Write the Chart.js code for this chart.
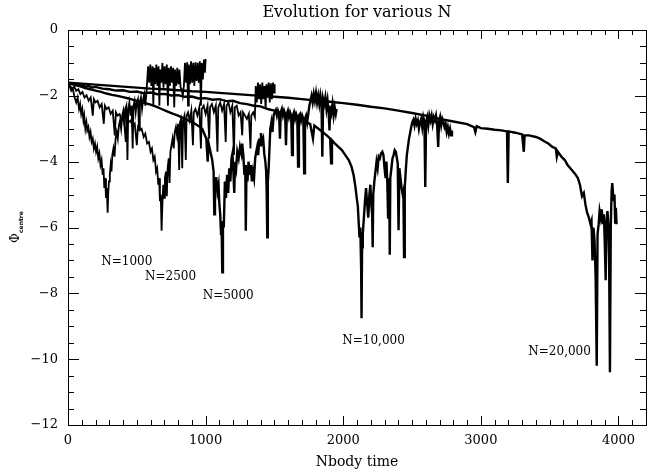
<!DOCTYPE html>
<html>
<head>
<meta charset="utf-8">
<script src="https://cdn.jsdelivr.net/npm/chart.js@4.4.1/dist/chart.umd.min.js"></script>
<style>
  html, body { margin: 0; padding: 0; background: #fff; }
  canvas { display: block; }
</style>
</head>
<body>
<canvas id="evolution" width="657" height="474"></canvas>
<script>
// [Nbody time, phi_centre], one list per run
const n1000 = [
  [0,-1.6],[12,-1.72],[24,-1.85],[36,-1.8],[48,-2.05],[60,-2.2],[70,-2.05],[80,-2.4],[88,-2.25],[96,-2.55],
  [104,-2.4],[112,-2.75],[118,-2.6],[126,-3.0],[134,-2.8],[140,-3.05],[148,-2.95],[156,-3.25],[164,-3.1],[172,-3.4],
  [180,-3.3],[188,-3.6],[196,-3.45],[204,-3.7],[212,-3.55],[220,-3.9],[228,-3.75],[236,-4.1],[244,-3.95],[252,-4.4],
  [258,-4.2],[264,-4.8],[270,-4.5],[276,-5.1],[282,-4.8],[288,-5.55],[293,-4.9],[298,-4.6],[304,-4.4],[310,-4.1],
  [316,-4.3],[322,-3.8],[330,-3.6],[338,-3.85],[346,-3.3],[354,-3.1],[362,-3.3],[370,-2.9],[378,-2.75],[386,-3.0],
  [394,-2.6],[402,-2.45],[410,-2.9],[416,-2.4],[424,-2.3],[432,-3.95],[438,-2.4],[446,-2.2],[454,-2.6],[462,-2.3],
  [470,-3.6],[476,-2.3],[484,-2.15],[492,-2.5],[500,-2.2],[508,-2.1],[516,-3.0],[522,-2.2],[530,-2.05],[538,-2.4],
  [546,-2.1],[554,-1.95],[562,-2.3],[570,-1.9],[576,-1.5],
  [582,-1.1],[590,-1.6],[598,-1.05],[606,-1.7],[614,-1.1],[620,-2.3],[626,-1.15],[634,-1.65],[642,-1.05],[650,-1.7],
  [658,-1.1],[664,-2.3],[670,-1.2],[678,-1.6],[686,-1.0],[694,-1.75],[702,-1.1],[710,-1.65],[718,-1.05],[726,-2.3],
  [732,-1.15],[740,-1.7],[748,-1.1],[756,-1.6],[764,-1.15],[772,-2.35],[778,-1.2],[786,-1.7],[794,-1.15],[802,-1.65],
  [810,-1.2],[818,-1.75],[826,-1.8],[834,-2.0],[842,-1.7],[850,-1.0],[858,-1.6],[866,-0.98],[872,-2.3],[878,-1.05],
  [886,-1.65],[894,-0.95],[902,-1.6],[910,-1.0],[918,-1.7],[926,-0.98],[934,-1.55],[942,-1.0],[950,-1.6],[958,-0.95],
  [966,-2.3],[972,-1.0],[980,-1.5],[988,-0.9],[995,-1.3],[1000,-0.88]
];

const n2500 = [
  [0,-1.6],[15,-1.7],[30,-1.78],[45,-1.72],[60,-1.85],[75,-1.8],[90,-1.95],[105,-1.88],[120,-2.05],[135,-1.98],
  [150,-2.15],[165,-2.05],[180,-2.6],[188,-2.1],[200,-2.2],[215,-2.15],[230,-2.35],[245,-2.25],[260,-2.85],[268,-2.3],
  [280,-2.4],[295,-2.35],[310,-2.55],[325,-2.45],[340,-3.2],[348,-2.5],[360,-2.6],[375,-2.55],[390,-2.75],[405,-2.65],
  [420,-3.4],[428,-2.7],[440,-2.8],[455,-2.75],[470,-2.95],[485,-2.85],[500,-3.5],[508,-2.95],[520,-3.05],[535,-3.0],
  [550,-3.25],[562,-3.15],[575,-3.45],[588,-3.4],[600,-3.7],[610,-3.6],[620,-3.95],[630,-3.85],[640,-4.3],[648,-4.2],
  [656,-4.7],[662,-4.5],[668,-5.2],[674,-5.0],[680,-6.1],[686,-5.3],[692,-4.7],[698,-5.1],[704,-4.5],[712,-4.3],
  [718,-5.05],[724,-4.2],[732,-3.9],[738,-4.65],[744,-3.7],[752,-3.5],[760,-3.3],[768,-3.6],[776,-3.1],[784,-2.95],
  [792,-3.2],[800,-2.85],[808,-4.25],[814,-2.8],[822,-2.7],[830,-4.2],[836,-2.75],[846,-2.6],[856,-3.95],[862,-2.6],
  [872,-2.5],[884,-2.75],[896,-2.45],[908,-3.5],[914,-2.5],[926,-2.4],[940,-2.6],[954,-2.35],[966,-3.6],[972,-2.4],
  [986,-2.3],[1000,-2.55],[1014,-2.3],[1026,-3.3],[1032,-2.35],[1046,-2.25],[1060,-2.5],[1074,-2.3],[1086,-3.7],[1092,-2.35],
  [1106,-2.2],[1120,-2.45],[1134,-2.25],[1146,-3.4],[1152,-2.3],[1166,-2.2],[1180,-2.5],[1194,-2.3],[1206,-3.8],[1212,-2.35],
  [1226,-2.3],[1240,-2.6],[1254,-2.5],[1266,-3.2],[1272,-2.5],[1286,-2.6],[1300,-2.7],[1314,-2.55],[1326,-3.6],[1332,-2.6],
  [1346,-2.5],[1358,-2.65],[1364,-1.7],
  [1372,-2.2],[1380,-1.6],[1388,-2.1],[1396,-1.65],[1404,-2.25],[1412,-1.6],[1420,-2.1],[1428,-1.7],[1436,-2.4],[1442,-1.65],
  [1450,-2.05],[1458,-1.6],[1466,-2.2],[1474,-1.62],[1482,-2.1],[1490,-1.6],[1497,-1.9],[1502,-1.65]
];

const n5000 = [
  [0,-1.6],[40,-1.66],[80,-1.7],[120,-1.76],[160,-1.8],[200,-1.84],[240,-1.88],[280,-1.93],[320,-1.97],[360,-2.0],
  [400,-2.04],[440,-2.08],[480,-2.13],[520,-2.17],[560,-2.22],[600,-2.27],[640,-2.33],[680,-2.4],[720,-2.47],[760,-2.54],
  [800,-2.6],[840,-2.68],[880,-2.76],[920,-2.84],[960,-2.95],[975,-3.0],[990,-3.15],[1005,-3.3],[1015,-4.0],[1022,-3.45],
  [1035,-3.7],[1048,-3.95],[1058,-4.3],[1063,-5.6],[1068,-4.5],[1078,-4.5],[1086,-4.9],[1094,-4.7],[1100,-5.3],[1106,-5.6],
  [1112,-6.2],[1116,-5.9],[1121,-7.36],[1126,-5.8],[1132,-6.0],[1140,-4.6],[1148,-5.1],[1156,-4.4],[1164,-4.95],[1172,-4.2],
  [1180,-4.6],[1188,-3.9],[1195,-3.75],[1202,-4.3],[1208,-4.95],[1214,-4.0],[1222,-4.2],[1230,-3.7],[1240,-3.9],[1250,-3.55],
  [1260,-3.75],[1266,-3.45],[1274,-3.8],[1282,-4.4],[1288,-4.1],[1292,-6.1],[1297,-4.2],[1304,-4.6],[1312,-4.0],[1320,-4.4],
  [1328,-4.1],[1336,-4.6],[1344,-4.3],[1352,-4.5],[1360,-3.9],[1368,-3.7],[1375,-3.55],[1382,-3.8],[1390,-3.3],[1396,-3.5],
  [1402,-3.13],[1410,-3.4],[1418,-3.3],[1426,-3.75],[1434,-4.0],[1440,-4.3],[1444,-5.0],[1448,-6.3],[1452,-4.6],[1458,-4.2],
  [1464,-3.6],[1470,-3.0],[1478,-2.8],[1486,-3.1],[1494,-2.6],[1502,-2.5],[1510,-2.43],[1518,-2.6],[1526,-2.45],[1534,-2.55],
  [1540,-3.3],[1546,-2.5],[1554,-2.4],[1562,-2.6],[1570,-2.45],[1578,-2.55],[1584,-3.5],[1590,-2.55],[1598,-2.45],[1606,-2.65],
  [1614,-2.5],[1622,-2.6],[1628,-3.8],[1634,-2.6],[1642,-2.5],[1650,-2.7],[1658,-2.55],[1666,-2.65],[1672,-4.15],[1678,-2.6],
  [1686,-2.55],[1694,-2.75],[1702,-2.6],[1710,-2.7],[1716,-4.35],[1722,-2.7],[1730,-2.6],[1738,-2.8],[1746,-2.55],[1754,-2.3],
  [1762,-2.15],[1770,-2.0],[1778,-2.2],[1786,-1.95],[1794,-2.15],[1802,-1.92],[1810,-2.2],[1818,-2.0],[1826,-2.25],[1834,-1.98],
  [1842,-2.2],[1848,-3.85],[1854,-2.1],[1862,-2.25],[1870,-2.05],[1878,-2.4],[1886,-2.15],[1894,-2.5],[1900,-3.05],[1906,-2.3],
  [1914,-2.5],[1922,-2.25],[1930,-2.6],[1938,-2.35],[1946,-2.55],[1952,-2.4]
];

const n10000 = [
  [0,-1.6],[25,-1.64],[50,-1.62],[75,-1.68],[100,-1.66],[125,-1.72],[150,-1.7],[175,-1.75],[200,-1.73],[250,-1.78],
  [300,-1.8],[350,-1.84],[400,-1.83],[450,-1.88],[500,-1.87],[550,-1.92],[600,-1.9],[650,-1.95],[700,-1.94],[750,-1.99],
  [800,-1.98],[850,-2.03],[900,-2.02],[950,-2.08],[1000,-2.07],[1050,-2.12],[1100,-2.1],[1150,-2.16],[1200,-2.15],[1250,-2.22],
  [1300,-2.25],[1350,-2.3],[1400,-2.32],[1450,-2.4],[1500,-2.45],[1550,-2.52],[1600,-2.58],[1650,-2.66],[1700,-2.74],[1730,-2.8],
  [1760,-2.86],[1780,-3.3],[1790,-2.9],[1820,-3.0],[1850,-3.1],[1880,-3.2],[1905,-3.3],[1912,-4.05],[1918,-3.35],[1940,-3.45],
  [1965,-3.55],[1990,-3.65],[2015,-3.8],[2040,-3.95],[2060,-4.15],[2075,-4.4],[2088,-4.75],[2098,-5.1],[2106,-5.35],[2113,-5.9],
  [2118,-6.3],[2124,-6.0],[2130,-7.2],[2133,-8.76],[2137,-6.6],[2142,-6.2],[2150,-5.7],[2158,-5.2],[2166,-4.8],[2174,-5.3],
  [2182,-5.7],[2190,-5.0],[2197,-4.7],[2204,-5.3],[2210,-5.6],[2214,-6.6],[2218,-5.0],[2226,-4.6],[2234,-4.3],[2242,-4.0],
  [2250,-4.2],[2258,-3.85],[2266,-3.9],[2274,-3.75],[2284,-3.7],[2292,-3.8],[2300,-4.2],[2308,-4.5],[2314,-4.0],[2320,-4.6],
  [2326,-5.7],[2330,-4.5],[2334,-4.7],[2338,-6.83],[2342,-4.5],[2350,-4.2],[2358,-3.9],[2366,-3.8],[2374,-3.65],[2382,-3.7],
  [2390,-3.9],[2396,-4.05],[2402,-6.08],[2408,-4.2],[2416,-4.5],[2424,-4.8],[2432,-5.0],[2437,-4.9],[2442,-6.9],[2447,-4.8],
  [2454,-4.3],[2462,-3.8],[2470,-3.55],[2478,-3.3],[2486,-3.13],[2494,-2.95],[2502,-2.8],[2510,-2.73],[2518,-2.9],[2526,-2.7],
  [2534,-2.85],[2542,-2.75],[2550,-3.0],[2558,-2.8],[2566,-2.7],[2574,-2.95],[2582,-2.65],[2590,-2.8],[2596,-4.77],[2602,-2.8],
  [2610,-2.65],[2618,-2.9],[2626,-2.6],[2634,-2.75],[2642,-2.6],[2650,-2.85],[2658,-2.65],[2666,-2.75],[2674,-2.6],[2682,-2.85],
  [2690,-3.55],[2696,-2.8],[2704,-2.65],[2712,-2.9],[2720,-2.7],[2728,-2.8],[2736,-2.95],[2744,-2.85],[2752,-3.1],[2760,-2.95],
  [2768,-3.15],[2776,-3.0],[2784,-3.2],[2790,-3.05]
];

const n20000 = [
  [0,-1.6],[100,-1.63],[200,-1.66],[300,-1.69],[400,-1.72],[500,-1.75],[600,-1.78],[700,-1.8],[800,-1.83],[900,-1.86],
  [1000,-1.88],[1100,-1.91],[1200,-1.94],[1300,-1.97],[1400,-2.0],[1500,-2.03],[1600,-2.06],[1700,-2.1],[1800,-2.14],[1900,-2.18],
  [2000,-2.22],[2100,-2.27],[2200,-2.33],[2300,-2.38],[2400,-2.45],[2500,-2.52],[2600,-2.6],[2700,-2.7],[2800,-2.78],[2900,-2.86],
  [2950,-2.95],[2960,-3.1],[2970,-2.92],[3000,-2.98],[3050,-3.0],[3100,-3.03],[3150,-3.05],[3190,-3.08],[3196,-4.65],[3202,-3.08],
  [3250,-3.12],[3300,-3.17],[3312,-3.7],[3318,-3.2],[3350,-3.2],[3400,-3.25],[3430,-3.3],[3460,-3.38],[3490,-3.45],[3520,-3.55],
  [3545,-3.6],[3552,-3.85],[3560,-3.7],[3585,-3.85],[3610,-3.95],[3630,-4.1],[3650,-4.2],[3670,-4.3],[3690,-4.4],[3705,-4.5],
  [3720,-4.7],[3735,-5.05],[3748,-4.95],[3760,-5.3],[3772,-5.55],[3785,-5.7],[3797,-5.9],[3804,-5.8],[3811,-7.0],[3818,-6.0],
  [3826,-6.4],[3834,-7.5],[3842,-10.2],[3848,-6.2],[3856,-5.9],[3863,-5.5],[3871,-5.7],[3878,-5.45],[3886,-5.9],[3894,-5.6],
  [3900,-6.4],[3907,-7.6],[3913,-5.8],[3920,-5.5],[3927,-5.9],[3932,-7.0],[3938,-10.4],[3944,-6.0],[3950,-4.9],[3955,-4.65],
  [3961,-5.0],[3966,-5.2],[3971,-5.0],[3976,-5.85],[3981,-5.4],[3986,-5.9]
];

const xMajor = [0, 1000, 2000, 3000, 4000];
const runNames = ['N=1000', 'N=2500', 'N=5000', 'N=10,000', 'N=20,000'];
// where each run's label sits, in data units [time, phi]
const labelSpots = [[427,-7.05],[745,-7.5],[1164,-8.08],[2220,-9.45],[3572,-9.78]];

const serif = 'DejaVu Serif';

// IDL style box: inward ticks on all four sides, title and y label
const idlFrame = {
  id: 'idlFrame',
  afterDraw(chart) {
    const { ctx, chartArea: a, scales: { x, y } } = chart;
    ctx.save();
    ctx.strokeStyle = '#000';
    ctx.lineWidth = 1;
    ctx.strokeRect(Math.round(a.left) + 0.5, Math.round(a.top) + 0.5,
      Math.round(a.right - a.left), Math.round(a.bottom - a.top));

    ctx.beginPath();
    for (let v = 0; v <= 4200; v += 100) {
      const px = Math.round(x.getPixelForValue(v)) + 0.5;
      const len = v % 1000 === 0 ? 9 : 5;
      ctx.moveTo(px, a.bottom); ctx.lineTo(px, a.bottom - len);
      ctx.moveTo(px, a.top); ctx.lineTo(px, a.top + len);
    }
    for (let v = -12; v <= 0; v += 0.5) {
      const py = Math.round(y.getPixelForValue(v)) + 0.5;
      const len = v % 2 === 0 ? 11 : 6;
      ctx.moveTo(a.left, py); ctx.lineTo(a.left + len, py);
      ctx.moveTo(a.right, py); ctx.lineTo(a.right - len, py);
    }
    ctx.stroke();

    ctx.fillStyle = '#000';
    ctx.textAlign = 'center';
    ctx.textBaseline = 'middle';
    ctx.font = '16px "' + serif + '"';
    ctx.fillText('Evolution for various N', (a.left + a.right) / 2, 13);

    ctx.font = '12px "' + serif + '"';
    runNames.forEach((name, i) => {
      const [t, phi] = labelSpots[i];
      ctx.fillText(name, x.getPixelForValue(t), y.getPixelForValue(phi));
    });

    // rotated y label with subscript
    ctx.translate(16, 228);
    ctx.rotate(-Math.PI / 2);
    ctx.textAlign = 'left';
    ctx.font = '12px "' + serif + '"';
    ctx.fillText('\u03a6', -15, 0);
    ctx.font = 'bold 6px "DejaVu Sans"';
    ctx.fillText('centre', -5, 5);
    ctx.restore();
  }
};

function series(points, width) {
  return {
    data: points.map(([t, phi]) => ({ x: t, y: phi })),
    borderColor: '#000',
    borderWidth: width,
    pointRadius: 0,
    tension: 0
  };
}

new Chart(document.getElementById('evolution'), {
  type: 'line',
  data: {
    datasets: [
      series(n1000, 1.8),
      series(n2500, 1.8),
      series(n5000, 2.4),
      series(n10000, 2.4),
      series(n20000, 2.4)
    ]
  },
  options: {
    responsive: false,
    animation: false,
    layout: { padding: { top: 30, right: 11, left: 0, bottom: 0 } },
    plugins: {
      legend: { display: false },
      tooltip: { enabled: false },
      title: { display: false }
    },
    scales: {
      x: {
        type: 'linear',
        min: 0,
        max: 4200,
        grid: { display: false, drawTicks: false },
        border: { display: false },
        afterBuildTicks: s => { s.ticks = xMajor.map(v => ({ value: v })); },
        ticks: {
          maxRotation: 0,
          autoSkip: false,
          padding: 8,
          color: '#000',
          font: { family: serif, size: 13 },
          callback: v => String(v)
        },
        title: {
          display: true,
          text: 'Nbody time',
          color: '#000',
          font: { family: serif, size: 14 },
          padding: { top: 0, bottom: 3 }
        },
        afterFit: s => { s.height = 49; }
      },
      y: {
        min: -12,
        max: 0,
        grid: { display: false, drawTicks: false },
        border: { display: false },
        ticks: {
          stepSize: 2,
          padding: 10,
          color: '#000',
          font: { family: serif, size: 13 },
          callback: v => v < 0 ? '\u2212' + Math.abs(v) : String(v)
        },
        afterFit: s => { s.width = 68; }
      }
    }
  },
  plugins: [idlFrame]
});
</script>
</body>
</html>
